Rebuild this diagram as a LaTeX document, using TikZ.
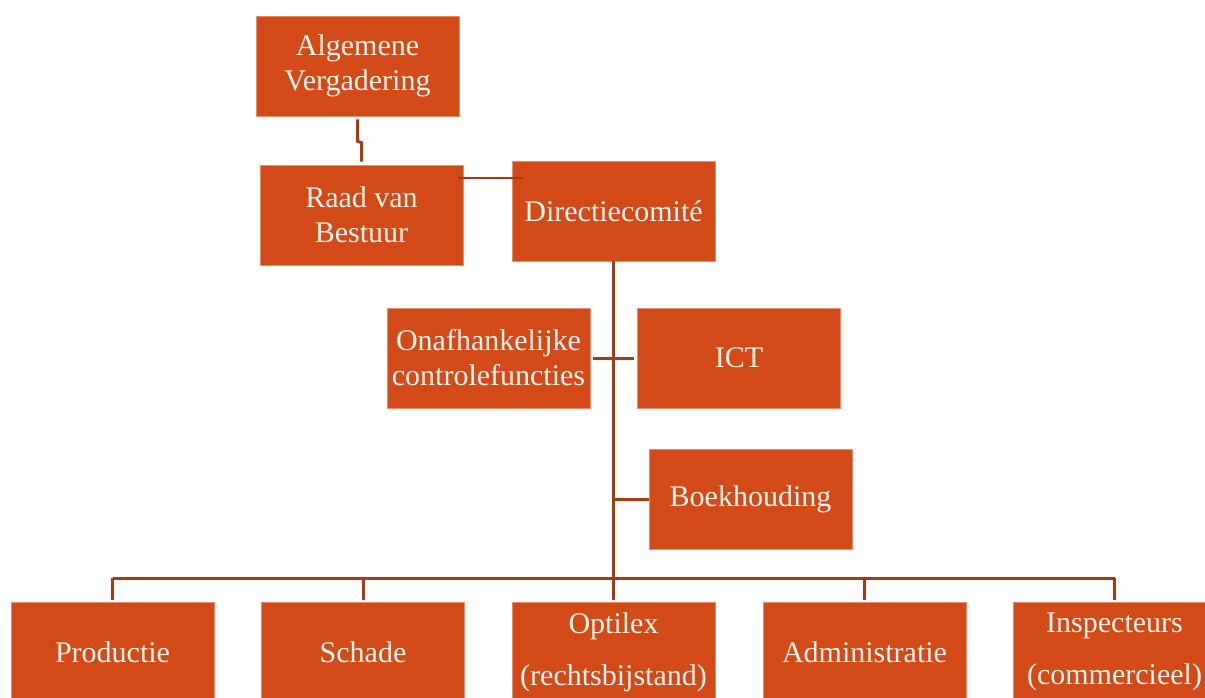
\documentclass[tikz,border=0pt]{standalone}
\usepackage{fontspec}
\setmainfont{Liberation Serif}
\usetikzlibrary{calc}
\definecolor{boxfill}{RGB}{209,74,24}
\definecolor{boxedge}{RGB}{232,140,105}
\definecolor{linkcol}{RGB}{168,58,20}
\definecolor{txtcol}{RGB}{250,244,238}
\tikzset{
  orgbox/.style={rectangle, fill=boxfill, draw=boxedge, line width=0.6pt,
    minimum width=203pt, minimum height=100pt, inner sep=0pt,
    text=txtcol, align=center, font=\fontsize{30}{35}\selectfont},
  lowbox/.style={orgbox, font=\fontsize{30}{52}\selectfont},
  link/.style={draw=linkcol, line width=3pt}
}
\begin{document}
\begin{tikzpicture}[x=1pt,y=-1pt]
\useasboundingbox (0,0) rectangle (1205,698);
\clip (0,0) rectangle (1205,698);
\node[orgbox] (av) at (357.5,66) {Algemene\\Vergadering};
\node[orgbox] (rvb) at (361.5,215) {Raad van\\Bestuur};
\node[orgbox] (dir) at (613.5,211) {Directiecomité};
\node[orgbox] (onaf) at (488.5,358) {Onafhankelijke\\controlefuncties};
\node[orgbox] (ict) at (739,358) {ICT};
\node[orgbox] (boek) at (750.5,499) {Boekhouding};
\node[lowbox] (prod) at (112.5,652) {Productie};
\node[lowbox] (schade) at (363,652) {Schade};
\node[lowbox] (opt) at (613.5,652) {Optilex\\(rechtsbijstand)};
\node[lowbox] (adm) at (864.5,652) {Administratie};
\node[lowbox] (insp) at (1114.5,652) {Inspecteurs\\(commercieel)};
\coordinate (bus) at (613.5,578);
% Algemene Vergadering -- Raad van Bestuur
\draw[link] ($(av.south)+(0,3)$) -- ($(av.south)+(0,25)$) -- ($(rvb.north)+(0,-22)$) -- ($(rvb.north)+(0,-3)$);
% Raad van Bestuur -- Directiecomité
\draw[link, line width=2pt] ($(rvb.east)+(-5,-37)$) -- ($(dir.west)+(11,-33)$);
% trunk
\draw[link] (dir.south) -- (bus);
\draw[link] ($(onaf.east)+(3,0)$) -- ($(ict.west)+(-3,0)$);
\draw[link] (boek.west -| bus) -- (boek.west);
% bus
\draw[link] (prod.north |- bus) -- (insp.north |- bus);
\foreach \n in {prod,schade,opt,adm,insp}
  \draw[link] (\n.north |- bus) -- ($(\n.north)+(0,-2)$);
\end{tikzpicture}
\end{document}
